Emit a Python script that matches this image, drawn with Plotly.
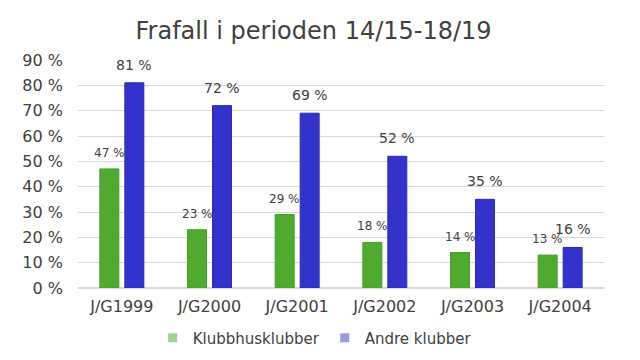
import plotly.graph_objects as go

categories = ["J/G1999", "J/G2000", "J/G2001", "J/G2002", "J/G2003", "J/G2004"]
klubbhus = [47, 23, 29, 18, 14, 13]
andre = [81, 72, 69, 52, 35, 16]
tick_vals = [0, 10, 20, 30, 40, 50, 60, 70, 80, 90]
tick_text = [f"{v} %" for v in tick_vals]

green = "#4faa2f"
blue = "#3333cc"
font = "DejaVu Sans"

fig = go.Figure()
fig.add_trace(go.Bar(
    x=categories, y=klubbhus, name="Klubbhusklubber",
    marker=dict(color=green, line=dict(color="#45a02a", width=1)), showlegend=False,
))
fig.add_trace(go.Bar(
    x=categories, y=andre, name="Andre klubber",
    marker=dict(color=blue, line=dict(color="#2a2ab8", width=1)), showlegend=False,
))
# data labels
for c, v in zip(categories, klubbhus):
    fig.add_annotation(x=c, y=v, xref="x", yref="y", text=f"{v} %", showarrow=False,
                       xanchor="center", yanchor="bottom", xshift=-12.5, yshift=7,
                       font=dict(size=12, color="#404040", family=font))
for c, v in zip(categories, andre):
    fig.add_annotation(x=c, y=v, xref="x", yref="y", text=f"{v} %", showarrow=False,
                       xanchor="center", yanchor="bottom", xshift=12.5, yshift=8,
                       font=dict(size=14, color="#404040", family=font))
# legend entries (lighter swatches, as in the reference)
fig.add_trace(go.Scatter(x=[None], y=[None], mode="markers", name="Klubbhusklubber",
                         marker=dict(symbol="square", size=9, color="#9ed48f")))
fig.add_trace(go.Scatter(x=[None], y=[None], mode="markers", name="Andre klubber",
                         marker=dict(symbol="square", size=9, color="#9a9ae6")))

fig.update_layout(
    width=640, height=360,
    margin=dict(l=78, r=36, t=60, b=72, autoexpand=False),
    paper_bgcolor="white", plot_bgcolor="white",
    title=dict(text="Frafall i perioden 14/15-18/19", x=0.49, xanchor="center",
               y=0.938, yanchor="top",
               font=dict(family=font, size=24, color="#404040")),
    font=dict(family=font, color="#595959"),
    barmode="group", bargap=0.43, bargroupgap=0.24,
    legend=dict(orientation="h", x=0.45, xanchor="center",
                yref="container", y=0.015, yanchor="bottom",
                font=dict(size=15, color="#404040"), itemwidth=30, tracegroupgap=0),
    xaxis=dict(showgrid=False, showline=False, ticks="", automargin=False,
               tickfont=dict(size=16, color="#404040"), ticklabelstandoff=7),
    yaxis=dict(range=[0, 90], tickvals=tick_vals, ticktext=tick_text, automargin=False,
               showgrid=True, gridcolor="#d9d9d9", gridwidth=1, zeroline=True,
               zerolinecolor="#d9d9d9", showline=False, ticks="",
               tickfont=dict(size=16, color="#404040"), ticklabelstandoff=14),
)

fig.write_html("out.html", config={"displayModeBar": False},
               post_script="document.body.style.margin='0';")
